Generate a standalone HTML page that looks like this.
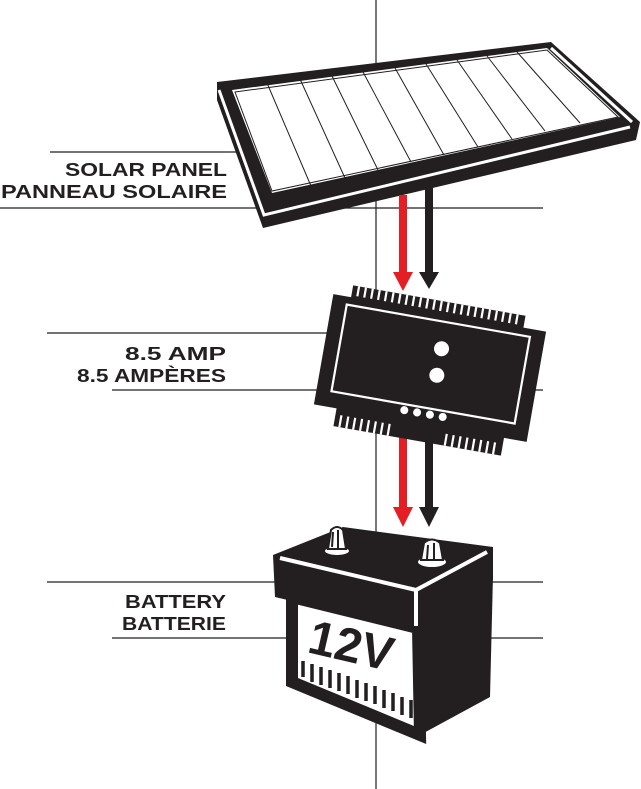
<!DOCTYPE html>
<html><head><meta charset="utf-8"><style>
html,body{margin:0;padding:0;background:#fff;}
svg{display:block}
text{font-family:"Liberation Sans",Arial,sans-serif;font-weight:bold;font-size:18px;fill:#231f20;}
</style></head><body>
<svg width="641" height="789" viewBox="0 0 641 789">
<g stroke="#231f20" stroke-width="1.2">
<line x1="376" y1="0" x2="376" y2="789"/>
<line x1="50" y1="152" x2="240" y2="152"/>
<line x1="0" y1="208" x2="543" y2="208"/>
<line x1="47" y1="333" x2="330" y2="333"/>
<line x1="525" y1="333" x2="543" y2="333"/>
<line x1="112" y1="390" x2="330" y2="390"/>
<line x1="525" y1="390" x2="543" y2="390"/>
<line x1="47" y1="582" x2="280" y2="582"/>
<line x1="490" y1="582" x2="543" y2="582"/>
<line x1="112" y1="638" x2="290" y2="638"/>
<line x1="490" y1="638" x2="543" y2="638"/>
</g>
<text x="65" y="176" textLength="162" lengthAdjust="spacingAndGlyphs">SOLAR PANEL</text>
<text x="1" y="198" textLength="226" lengthAdjust="spacingAndGlyphs">PANNEAU SOLAIRE</text>
<text x="125" y="360" textLength="101" lengthAdjust="spacingAndGlyphs">8.5 AMP</text>
<text x="77" y="382" textLength="149" lengthAdjust="spacingAndGlyphs">8.5 AMPÈRES</text>
<text x="125" y="608" textLength="101" lengthAdjust="spacingAndGlyphs">BATTERY</text>
<text x="122" y="630" textLength="104" lengthAdjust="spacingAndGlyphs">BATTERIE</text>

<!-- solar panel -->
<polygon points="217,82 551,42 640,122 636,140 263,228 217,100" fill="#231f20"/>
<polygon points="232,90 547,48 620,117 272,193" fill="#fff"/>
<polyline points="219,90 264,215 630,127" fill="none" stroke="#fff" stroke-width="3"/>
<line x1="551" y1="48" x2="632" y2="122" stroke="#fff" stroke-width="3"/>
<polygon points="235,92 547,50 618,117 272,191" fill="none" stroke="#231f20" stroke-width="1"/>
<g stroke="#231f20" stroke-width="1">
<line x1="267" y1="83" x2="311" y2="186"/>
<line x1="300" y1="79" x2="345" y2="178"/>
<line x1="332" y1="76" x2="378" y2="170"/>
<line x1="363" y1="72" x2="411" y2="162"/>
<line x1="395" y1="68" x2="444" y2="155"/>
<line x1="426" y1="64" x2="478" y2="147"/>
<line x1="457" y1="60" x2="512" y2="139"/>
<line x1="487" y1="56" x2="545" y2="131"/>
<line x1="517" y1="52" x2="580" y2="123"/>
</g>

<!-- arrows top -->
<rect x="399" y="195" width="8" height="80" fill="#e31e24"/>
<polygon points="393,272 413,272 403,291" fill="#e31e24"/>
<rect x="425" y="186" width="8" height="89" fill="#231f20"/>
<polygon points="419,272 439,272 429,289" fill="#231f20"/>

<!-- arrows bottom -->
<rect x="399" y="415" width="8" height="95" fill="#e31e24"/>
<polygon points="393,507 413,507 403,527" fill="#e31e24"/>
<rect x="425" y="415" width="8" height="95" fill="#231f20"/>
<polygon points="419,507 439,507 429,527" fill="#231f20"/>

<!-- controller -->
<g transform="rotate(10 430 368)">
<rect x="322" y="312" width="216" height="112" fill="#231f20"/>
<g fill="#231f20">
<rect x="340" y="300" width="175" height="14"/>
<rect x="345" y="420" width="170" height="22"/>
</g>
<g stroke="#fff" stroke-width="2.2">
<path d="M346 300v10 M353 300v10 M360 300v10 M367 300v10 M374 300v10 M381 300v10 M388 300v10 M395 300v10 M402 300v10 M409 300v10 M416 300v10 M423 300v10 M430 300v10 M437 300v10 M444 300v10 M451 300v10 M458 300v10 M465 300v10 M472 300v10 M479 300v10 M486 300v10 M493 300v10 M500 300v10 M507 300v10"/>
<path d="M351 430v12 M358 430v12 M365 430v12 M372 430v12 M379 430v12 M386 430v12 M393 430v12 M400 430v12 M458 430v12 M465 430v12 M472 430v12 M479 430v12 M486 430v12 M493 430v12 M500 430v12 M507 430v12"/>
</g>
<rect x="337" y="320" width="186" height="88" fill="none" stroke="#fff" stroke-width="2.2"/>
<circle cx="438" cy="347" r="7.5" fill="#fff"/>
<circle cx="438" cy="374" r="7.5" fill="#fff"/>
<circle cx="412" cy="414" r="4" fill="#fff"/>
<circle cx="425" cy="414" r="4" fill="#fff"/>
<circle cx="438" cy="414" r="4" fill="#fff"/>
<circle cx="451" cy="414" r="4" fill="#fff"/>
</g>

<!-- battery -->
<polygon points="273,555 343,527 493,547 493,580 418,631 275,597" fill="#231f20"/>
<polygon points="292,600 418,630 420,730 292,677" fill="#fff" stroke="#231f20" stroke-width="2"/>
<polygon points="418,600 493,575 490,697 420,735 418,630" fill="#231f20"/>
<polygon points="292,597 292,682 420,735 418,628" fill="none" stroke="#231f20" stroke-width="12"/>
<polyline points="280,558 416,590 487,552" fill="none" stroke="#fff" stroke-width="4"/>
<line x1="416" y1="590" x2="416" y2="626" stroke="#fff" stroke-width="4"/>
<g stroke="#231f20" stroke-width="3.5">
<path d="M303 661v16 M312 664v18 M321 667v18 M330 670v18 M339 673v18 M348 676v18 M357 680v18 M366 683v18 M375 686v18 M384 690v18 M393 693v18 M402 697v18 M411 700v18"/>
</g>
<text x="0" y="0" transform="translate(306,652) rotate(13)" style="font-size:48px;fill:#231f20">12V</text>
<!-- terminals -->
<ellipse cx="337" cy="551" rx="13" ry="5" fill="#fff" stroke="#231f20" stroke-width="2"/>
<path d="M328 549 L331 530 Q337 524 343 530 L346 549 Z" fill="#fff" stroke="#231f20" stroke-width="2"/>
<path d="M333 532 L332 547 M338 530 L338 548" stroke="#231f20" stroke-width="2"/>
<ellipse cx="432" cy="562" rx="15" ry="6" fill="#fff" stroke="#231f20" stroke-width="2"/>
<path d="M421 560 L424 543 Q432 536 440 543 L443 560 Z" fill="#fff" stroke="#231f20" stroke-width="2"/>
<path d="M428 545 L427 559 M434 543 L434 560" stroke="#231f20" stroke-width="2"/>
</svg>
</body></html>
